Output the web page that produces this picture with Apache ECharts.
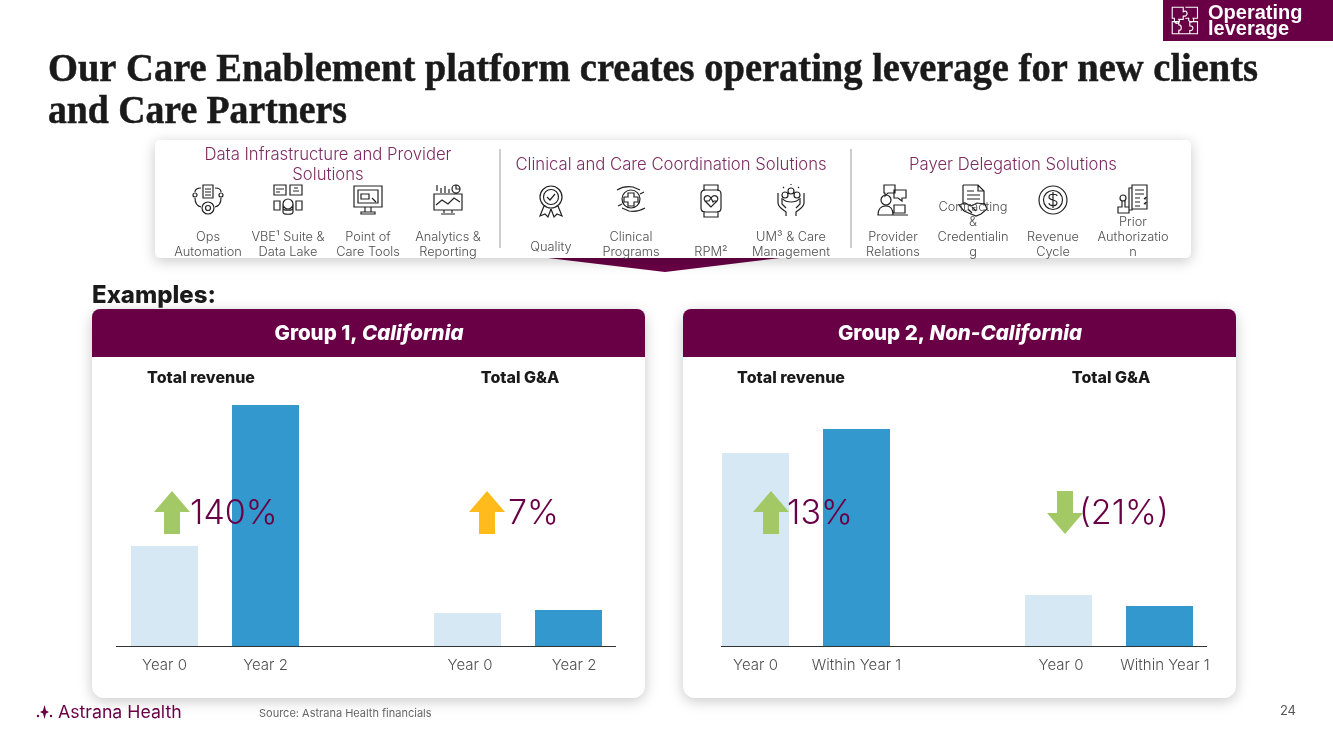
<!DOCTYPE html>
<html>
<head>
<meta charset="utf-8">
<title>Operating leverage</title>
<style>
html, body { margin: 0; padding: 0; background: #fff; }
#main { width: 1333px; height: 749px; }
</style>
<script src="https://cdn.jsdelivr.net/npm/echarts@6/dist/echarts.min.js"></script>
</head>
<body>
<div id="main"></div>
<script>
// chart data, bar heights
var group1Categories = ['Year 0', 'Year 2', '', 'Year 0', 'Year 2'];
var group1Values = [100, 241, null, 33, 36];
var group2Categories = ['Year 0', 'Within Year 1', '', 'Year 0', 'Within Year 1'];
var group2Values = [193, 217, null, 51, 40];

var titleLines = ['Our Care Enablement platform creates operating leverage for new clients', 'and Care Partners'];
var sectionNames = ['Data Infrastructure and Provider\nSolutions', 'Clinical and Care Coordination Solutions', 'Payer Delegation Solutions'];
var solutionNames = ['Ops\nAutomation', 'VBE¹ Suite &\nData Lake', 'Point of\nCare Tools', 'Analytics &\nReporting',
    'Quality', 'Clinical\nPrograms', 'RPM²', 'UM³ & Care\nManagement',
    'Provider\nRelations', 'Contracting\n&\nCredentialin\ng', 'Revenue\nCycle', 'Prior\nAuthorizatio\nn'];
var solutionX = [208, 288, 368, 448, 551, 631, 711, 791, 893, 973, 1053, 1133];
var changeLabels = ['140%', '7%', '13%', '(21%)'];

var PURPLE = '#690045';
var LIGHT_BAR = '#d5e8f4';
var DARK_BAR = '#3398ce';
var SANS = 'Inter, "Liberation Sans", sans-serif';

// small helpers for the line icons
function c(x, y, r) {
    return 'M' + (x - r) + ' ' + y + 'a' + r + ' ' + r + ' 0 1 0 ' + (2 * r) + ' 0a' + r + ' ' + r + ' 0 1 0 ' + (-2 * r) + ' 0';
}
function b(x, y, w, h) {
    return 'M' + x + ' ' + y + 'h' + w + 'v' + h + 'h' + (-w) + 'z';
}

var icons = [
    b(10, 0, 10, 13) + 'M12 4h6M12 7h6M12 10h6' + c(15, 23, 6) + c(15, 23, 2.5) + c(2, 10, 2) + c(28, 10, 2) + 'M2 7C2 4 5 3 8 3M22 3c3 0 6 1 6 4M2 13c0 5 2 8 6 9M28 13c0 5-2 8-6 9',
    b(1, 0, 12, 10) + b(17, 0, 12, 10) + 'M3 4h8M3 7h4M20 6h6M21 3h4' + c(15, 19, 5) + 'M10 19v8c0 3 10 3 10 0v-8M10 23c0 3 10 3 10 0' + b(1, 16, 6, 9) + b(23, 16, 6, 9),
    b(1, 1, 28, 21) + b(5, 5, 20, 13) + b(8, 9, 8, 5) + 'M12 22v5M18 22v5M8 29h14v-2H8z' + 'M19 13l4 4',
    b(1, 9, 28, 16) + 'M4 6V0M8 8V3M12 8V1M16 8V4' + c(23, 4, 4) + 'M23 0v4h4M3 20l6-5 6 4 6-6 6 4M11 25v3M19 25v3M8 29h14',
    c(15, 12, 11) + c(15, 12, 7.5) + 'M11 12l3 3 5-6M8 21L4 31l5-2 3 3 3-8M22 21l4 10-5-2-3 3-3-8',
    c(15, 14, 9) + 'M12 8h6v4h4v5h-4v4h-6v-4H8v-5h4z' + 'M1 5c5-3 10-4 16-3l7 3M29 23c-5 3-10 4-16 3l-7-3M24 9l4-2M6 19l-4 2',
    'M8 6V0h14v6M8 26v6h14v-6' + 'M9 5h12c3 0 4 2 4 4v14c0 2-1 4-4 4H9c-3 0-4-2-4-4V9c0-2 1-4 4-4z' + 'M15 22l-6-6c-3-4 3-8 6-3 3-5 9-1 6 3zM9 16h4l2-3 2 4 1-1h3',
    c(15, 6, 3) + c(9, 10, 3) + c(21, 10, 3) + 'M7 14c3 4 13 4 16 0M15 0v-1M7 2l1 1M23 2l-1 1' + 'M2 8v10c0 4 4 6 8 9v4M28 8v10c0 4-4 6-8 9v4M6 13v6l4 4M24 13v6l-4 4',
    c(8, 15, 5) + 'M0 30c0-6 3-9 8-9s7 3 7 9zM6 0h11v8h-7l-3 3V8H6zM16 5h12v8h-4v3l-4-3h-4z' + b(16, 20, 11, 8) + 'M13 30h17',
    'M5 0h15l6 6v14M5 0v18M20 0v6h6M9 6h7M9 10h13M9 14h13' + 'M1 20l6-2 6 3 6-3 8 1 2 5-6 5-5 2-5-2-7-3zM10 24l4 4M14 22l4 4',
    c(15, 15, 14) + c(15, 15, 9.5) + 'M19 11c0-2-8-3-8 1s8 2 8 6-8 3-8 0M15 7v16',
    b(14, 0, 15, 24) + b(11, 3, 3, 22) + 'M17 5h9M17 9h9M17 13h5M17 17h5M17 21h5M26 13l1 1 1-2M26 18l1 1 1-2' + c(5, 13, 3) + 'M4 16v6H0v6h11v-6H7v-6'
];
var puzzleIcon = 'M2 3h10v4c3-2 5 2 2 4h-2v3H8c2 3-2 5-4 2v-3H2zM14 3h11v10h-4c2 3-2 5-4 2v-2h-3M2 16h6v3c3 0 3 5 0 5v3H2zM8 27h10v-3c3 1 4-4 1-4h-1v-4M18 16h7v11h-7';

// the graphic component has no plain path type, so register each icon as a shape
icons.forEach(function (d, i) {
    echarts.graphic.registerShape('icon' + i, echarts.graphic.extendPath(d, {}));
});
echarts.graphic.registerShape('puzzle', echarts.graphic.extendPath(puzzleIcon, {}));

var graphics = [];

function addText(x, y, text, size, color, opts) {
    opts = opts || {};
    var style = {
        text: text, fill: color, font: (opts.weight || 'normal') + ' ' + size + 'px ' + (opts.family || SANS),
        align: opts.align || 'left', verticalAlign: opts.valign || 'middle', lineHeight: opts.lineHeight
    };
    if (opts.stroke) {
        style.stroke = color;
        style.lineWidth = opts.stroke;
    }
    graphics.push({ type: 'text', x: x, y: y, z: opts.z || 5, scaleX: opts.scaleX || 1, style: style });
}

function addRect(x, y, w, h, fill, r, shadow, z) {
    graphics.push({
        type: 'rect', z: z || 0, shape: { x: x, y: y, width: w, height: h, r: r || 0 },
        style: shadow ? { fill: fill, shadowBlur: 14, shadowOffsetY: 3, shadowColor: 'rgba(0,0,0,0.22)' } : { fill: fill }
    });
}

function addArrow(cx, up, fill) {
    var top = 491, bottom = 534, neck = up ? 512 : 513;
    var pts = up
        ? [[cx, top], [cx + 18, neck], [cx + 8, neck], [cx + 8, bottom], [cx - 8, bottom], [cx - 8, neck], [cx - 18, neck]]
        : [[cx, bottom], [cx + 18, neck], [cx + 8, neck], [cx + 8, top], [cx - 8, top], [cx - 8, neck], [cx - 18, neck]];
    graphics.push({ type: 'polygon', z: 6, shape: { points: pts }, style: { fill: fill } });
}

// header
titleLines.forEach(function (line, i) {
    addText(48, 71 + i * 42, line, 40, '#1a1a1a', { weight: 'bold', family: '"Liberation Serif", serif', scaleX: i === 0 ? 0.9626 : 0.943, stroke: 0.5 });
});
addRect(1163, 0, 170, 41, PURPLE);
addText(1208, 13, 'Operating', 20, '#fff', { weight: 'bold', family: '"Liberation Sans", sans-serif' });
addText(1208, 29, 'leverage', 20, '#fff', { weight: 'bold', family: '"Liberation Sans", sans-serif' });
graphics.push({ type: 'puzzle', z: 5, x: 1170, y: 4, scaleX: 1.1, scaleY: 1.1, style: { fill: 'none', stroke: '#fff', lineWidth: 1 } });

// solutions strip
graphics.push({ type: 'polygon', z: 1, shape: { points: [[548, 258], [780, 258], [665, 272]] }, style: { fill: PURPLE } });
addRect(155, 140, 1036, 118, '#fff', 5, true, 2);
[500, 851].forEach(function (x) {
    graphics.push({ type: 'line', z: 3, shape: { x1: x, y1: 149, x2: x, y2: 248 }, style: { stroke: '#bdbdbd', lineWidth: 1.5 } });
});
addText(328, 165, sectionNames[0], 16.7, '#7d2b60', { align: 'center', lineHeight: 20, weight: '300' });
addText(671, 165, sectionNames[1], 16.7, '#7d2b60', { align: 'center', weight: '300' });
addText(1013, 165, sectionNames[2], 16.7, '#7d2b60', { align: 'center', weight: '300' });
solutionNames.forEach(function (name, i) {
    var bottom = name === 'Quality' ? 255 : 260;
    addText(solutionX[i], bottom, name, 12.8, '#4f4f4f', { align: 'center', valign: 'bottom', lineHeight: 15, z: 6, weight: '300' });
    graphics.push({ type: 'icon' + i, z: 4, x: solutionX[i] - 15, y: 185, style: { fill: 'none', stroke: '#222', lineWidth: 1.2 } });
});

addText(92, 296, 'Examples:', 24, '#1a1a1a', { weight: '800' });

// the two group cards, they sit under the bars
function addCard(x, head, sub, midX) {
    addRect(x, 309, 553, 389, '#fff', 12, true, 0);
    graphics.push({ type: 'rect', z: 1, shape: { x: x, y: 309, width: 553, height: 48, r: [8, 8, 0, 0] }, style: { fill: PURPLE } });
    graphics.push({
        type: 'text', z: 5, x: midX, y: 334,
        style: {
            text: '{a|' + head + ' }{b|' + sub + '}', align: 'center', verticalAlign: 'middle',
            rich: {
                a: { fill: '#fff', font: '800 20.5px ' + SANS },
                b: { fill: '#fff', font: 'italic 800 20.5px ' + SANS }
            }
        }
    });
}
addCard(92, 'Group 1,', 'California', 369);
addCard(683, 'Group 2,', 'Non-California', 960);

addText(201, 378, 'Total revenue', 16, '#1a1a1a', { weight: '800', align: 'center' });
addText(520, 378, 'Total G&A', 16, '#1a1a1a', { weight: '800', align: 'center' });
addText(791, 378, 'Total revenue', 16, '#1a1a1a', { weight: '800', align: 'center' });
addText(1111, 378, 'Total G&A', 16, '#1a1a1a', { weight: '800', align: 'center' });

// baselines stop short of the grid edges in the picture
[[116, 616], [721, 1207]].forEach(function (p) {
    graphics.push({ type: 'line', z: 4, shape: { x1: p[0], y1: 646.5, x2: p[1], y2: 646.5 }, style: { stroke: '#333', lineWidth: 1 } });
});

// change markers, drawn over the bars
addArrow(172, true, '#a3c966');
addArrow(487, true, '#ffbb1c');
addArrow(771, true, '#a3c966');
addArrow(1065, false, '#a3c966');
addText(190, 514, changeLabels[0], 34, PURPLE, { z: 7, weight: '300' });
addText(508, 514, changeLabels[1], 34, PURPLE, { z: 7, weight: '300' });
addText(787, 514, changeLabels[2], 34, PURPLE, { z: 7, weight: '300' });
addText(1079, 514, changeLabels[3], 34, PURPLE, { z: 7, weight: '300' });

// footer
addText(58, 713, 'Astrana Health', 17.7, PURPLE);
graphics.push({ type: 'circle', z: 5, shape: { cx: 38, cy: 716, r: 1.2 }, style: { fill: PURPLE } });
graphics.push({ type: 'circle', z: 5, shape: { cx: 51, cy: 716, r: 1.2 }, style: { fill: PURPLE } });
graphics.push({ type: 'polygon', z: 5, shape: { points: [[44.5, 705], [46, 710.5], [49, 712], [46, 713.5], [44.5, 719], [43, 713.5], [40, 712], [43, 710.5]] }, style: { fill: PURPLE } });
addText(259, 714, 'Source: Astrana Health financials', 11, '#666');
addText(1296, 711, '24', 13, '#555', { align: 'right' });

function barColor(params) {
    return params.dataIndex === 0 || params.dataIndex === 3 ? LIGHT_BAR : DARK_BAR;
}

// labels of the right pair sit a little off the bars in the picture
function tickLabel(value, index) {
    if (index === 3) return '{near|' + value + '}';
    if (index === 4) return '{far|' + value + '}';
    return '{base|' + value + '}';
}

function makeX(cats, gridIndex) {
    var font = { color: '#4f4f4f', fontSize: 15, fontWeight: 300, fontFamily: SANS };
    return {
        type: 'category', gridIndex: gridIndex, data: cats,
        axisLine: { show: false }, axisTick: { show: false },
        axisLabel: {
            interval: 0, margin: 12, formatter: tickLabel,
            rich: {
                base: font,
                near: Object.assign({ padding: [0, 0, 0, 5] }, font),
                far: Object.assign({ padding: [0, 0, 0, 11] }, font)
            }
        }
    };
}

function makeY(gridIndex) {
    return { type: 'value', gridIndex: gridIndex, min: 0, max: 250, show: false, splitLine: { show: false } };
}

var mcharts = echarts.init(document.getElementById('main'), null, { renderer: 'canvas' });
var option = {
    animation: false,
    backgroundColor: '#fff',
    graphic: { elements: graphics },
    grid: [
        { left: 114, top: 396, width: 505, height: 250 },
        { left: 705, top: 396, width: 505, height: 250 }
    ],
    xAxis: [makeX(group1Categories, 0), makeX(group2Categories, 1)],
    yAxis: [makeY(0), makeY(1)],
    series: [
        { type: 'bar', xAxisIndex: 0, yAxisIndex: 0, barWidth: 67, data: group1Values, itemStyle: { color: barColor } },
        { type: 'bar', xAxisIndex: 1, yAxisIndex: 1, barWidth: 67, data: group2Values, itemStyle: { color: barColor } }
    ]
};
mcharts.setOption(option);
</script>
</body>
</html>
